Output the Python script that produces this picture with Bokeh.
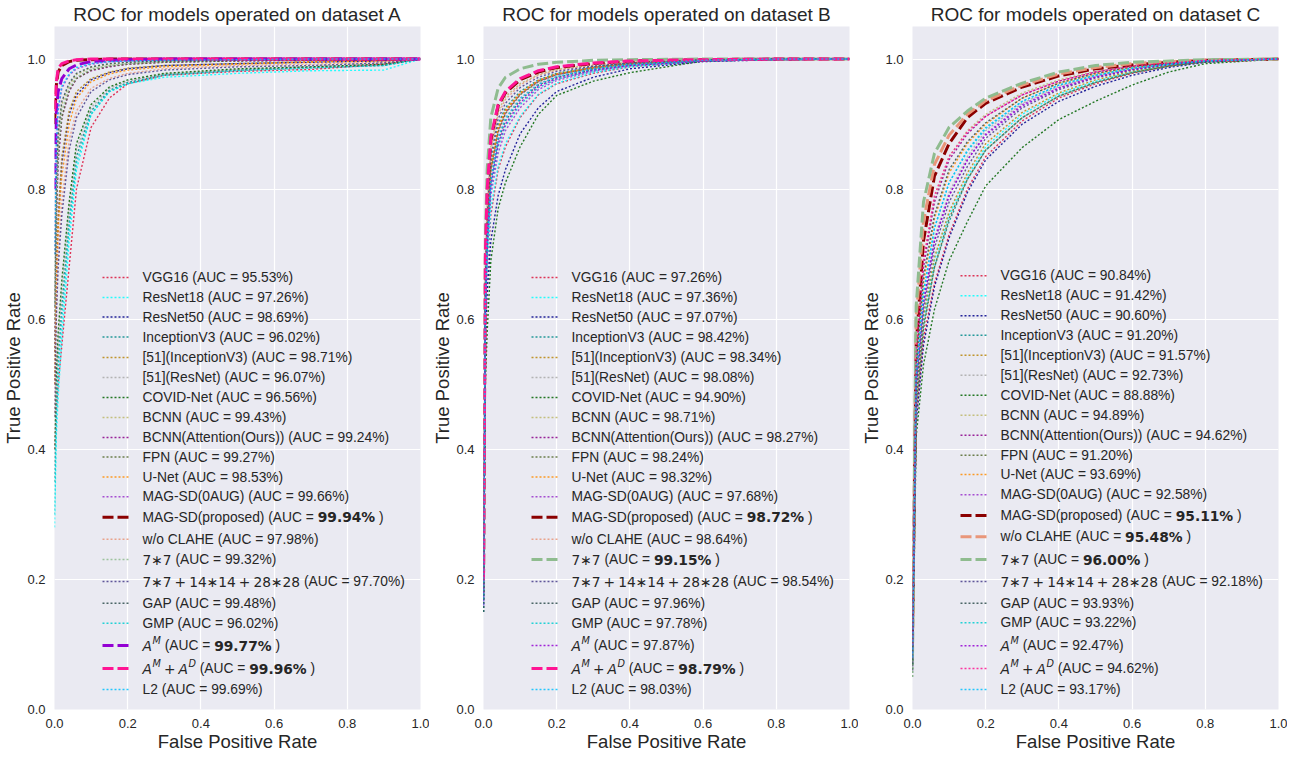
from bokeh.plotting import figure
from bokeh.models import Range1d, FixedTicker, PrintfTickFormatter, Label, Arrow
from bokeh.layouts import row
from bokeh.embed import file_html
from bokeh.resources import INLINE

# ---------------- data ----------------
models = ["VGG16", "ResNet18", "ResNet50", "InceptionV3", "[51](InceptionV3)", "[51](ResNet)",
          "COVID-Net", "BCNN", "BCNN(Attention(Ours))", "FPN", "U-Net", "MAG-SD(0AUG)",
          "MAG-SD(proposed)", "w/o CLAHE", "7*7", "7*7+14*14+28*28", "GAP", "GMP",
          "A^M", "A^M+A^D", "L2"]

titles = ["ROC for models operated on dataset A",
          "ROC for models operated on dataset B",
          "ROC for models operated on dataset C"]

auc_a = [95.53, 97.26, 98.69, 96.02, 98.71, 96.07, 96.56, 99.43, 99.24, 99.27, 98.53, 99.66,
         99.94, 97.98, 99.32, 97.70, 99.48, 96.02, 99.77, 99.96, 99.69]
auc_b = [97.26, 97.36, 97.07, 98.42, 98.34, 98.08, 94.90, 98.71, 98.27, 98.24, 98.32, 97.68,
         98.72, 98.64, 99.15, 98.54, 97.96, 97.78, 97.87, 98.79, 98.03]
auc_c = [90.84, 91.42, 90.60, 91.20, 91.57, 92.73, 88.88, 94.89, 94.62, 91.20, 93.69, 92.58,
         95.11, 95.48, 96.00, 92.18, 93.93, 93.22, 92.47, 94.62, 93.17]

fpr_a = [0, 0.005, 0.01, 0.02, 0.04, 0.06, 0.1, 0.15, 0.2, 0.3, 0.5, 0.7, 0.9, 1.0]
tpr_a = [
    [0.40, 0.46, 0.50, 0.56, 0.68, 0.80, 0.895, 0.94, 0.962, 0.975, 0.981, 0.984, 0.992, 1],
    [0.28, 0.42, 0.48, 0.57, 0.72, 0.83, 0.915, 0.95, 0.962, 0.972, 0.978, 0.982, 0.983, 1],
    [0.50, 0.66, 0.75, 0.84, 0.915, 0.945, 0.968, 0.979, 0.985, 0.99, 0.993, 0.995, 0.997, 1],
    [0.35, 0.47, 0.54, 0.62, 0.75, 0.85, 0.92, 0.952, 0.964, 0.976, 0.983, 0.987, 0.99, 1],
    [0.50, 0.67, 0.76, 0.85, 0.92, 0.95, 0.97, 0.98, 0.986, 0.99, 0.993, 0.996, 0.998, 1],
    [0.38, 0.50, 0.56, 0.64, 0.77, 0.86, 0.925, 0.955, 0.966, 0.977, 0.984, 0.988, 0.992, 1],
    [0.40, 0.52, 0.58, 0.66, 0.78, 0.87, 0.93, 0.957, 0.968, 0.978, 0.985, 0.988, 0.992, 1],
    [0.60, 0.80, 0.88, 0.93, 0.96, 0.976, 0.987, 0.992, 0.995, 0.997, 0.998, 0.999, 1, 1],
    [0.55, 0.75, 0.84, 0.91, 0.95, 0.97, 0.982, 0.988, 0.992, 0.995, 0.997, 0.998, 0.999, 1],
    [0.55, 0.76, 0.85, 0.91, 0.952, 0.97, 0.983, 0.989, 0.992, 0.995, 0.997, 0.998, 0.999, 1],
    [0.50, 0.65, 0.74, 0.82, 0.90, 0.94, 0.965, 0.977, 0.983, 0.988, 0.992, 0.995, 0.997, 1],
    [0.70, 0.86, 0.92, 0.955, 0.975, 0.985, 0.992, 0.996, 0.997, 0.998, 0.999, 1, 1, 1],
    [0.90, 0.96, 0.98, 0.99, 0.996, 0.998, 0.999, 1, 1, 1, 1, 1, 1, 1],
    [0.45, 0.62, 0.70, 0.78, 0.875, 0.92, 0.955, 0.97, 0.978, 0.985, 0.99, 0.992, 0.995, 1],
    [0.60, 0.78, 0.86, 0.92, 0.955, 0.972, 0.985, 0.99, 0.993, 0.996, 0.998, 0.999, 1, 1],
    [0.45, 0.60, 0.68, 0.76, 0.86, 0.91, 0.95, 0.968, 0.976, 0.983, 0.988, 0.99, 0.994, 1],
    [0.62, 0.81, 0.885, 0.935, 0.963, 0.978, 0.988, 0.993, 0.995, 0.997, 0.998, 0.999, 1, 1],
    [0.30, 0.45, 0.52, 0.60, 0.74, 0.84, 0.915, 0.95, 0.962, 0.975, 0.982, 0.986, 0.99, 1],
    [0.80, 0.92, 0.95, 0.97, 0.985, 0.991, 0.996, 0.998, 0.999, 1, 1, 1, 1, 1],
    [0.92, 0.965, 0.985, 0.993, 0.997, 0.999, 1, 1, 1, 1, 1, 1, 1, 1],
    [0.70, 0.87, 0.925, 0.958, 0.977, 0.987, 0.993, 0.996, 0.997, 0.998, 0.999, 1, 1, 1],
]

fpr_b = [0, 0.005, 0.01, 0.02, 0.04, 0.06, 0.1, 0.15, 0.2, 0.3, 0.4, 0.6, 0.8, 1.0]
tpr_b = [
    [0.15, 0.58, 0.67, 0.76, 0.83, 0.865, 0.91, 0.945, 0.962, 0.978, 0.988, 0.997, 0.999, 1],
    [0.15, 0.59, 0.68, 0.77, 0.835, 0.87, 0.912, 0.946, 0.963, 0.979, 0.988, 0.997, 0.999, 1],
    [0.15, 0.55, 0.64, 0.72, 0.79, 0.83, 0.885, 0.925, 0.95, 0.972, 0.985, 0.996, 0.999, 1],
    [0.18, 0.65, 0.75, 0.84, 0.90, 0.925, 0.95, 0.968, 0.978, 0.988, 0.994, 0.998, 1, 1],
    [0.18, 0.64, 0.745, 0.835, 0.895, 0.922, 0.948, 0.967, 0.977, 0.987, 0.993, 0.998, 1, 1],
    [0.17, 0.62, 0.72, 0.815, 0.88, 0.91, 0.94, 0.962, 0.973, 0.985, 0.992, 0.998, 1, 1],
    [0.15, 0.50, 0.58, 0.69, 0.77, 0.81, 0.865, 0.915, 0.944, 0.966, 0.979, 0.997, 0.999, 1],
    [0.20, 0.68, 0.78, 0.865, 0.92, 0.942, 0.962, 0.976, 0.984, 0.991, 0.995, 0.999, 1, 1],
    [0.18, 0.64, 0.74, 0.83, 0.89, 0.918, 0.946, 0.966, 0.976, 0.987, 0.993, 0.998, 1, 1],
    [0.17, 0.63, 0.735, 0.828, 0.888, 0.916, 0.945, 0.965, 0.976, 0.986, 0.993, 0.998, 1, 1],
    [0.18, 0.64, 0.742, 0.833, 0.893, 0.92, 0.947, 0.967, 0.977, 0.987, 0.993, 0.998, 1, 1],
    [0.16, 0.60, 0.70, 0.79, 0.855, 0.89, 0.925, 0.953, 0.967, 0.981, 0.99, 0.997, 0.999, 1],
    [0.20, 0.69, 0.79, 0.875, 0.928, 0.948, 0.968, 0.98, 0.987, 0.993, 0.997, 0.999, 1, 1],
    [0.19, 0.67, 0.77, 0.86, 0.915, 0.938, 0.96, 0.975, 0.983, 0.99, 0.995, 0.999, 1, 1],
    [0.20, 0.72, 0.83, 0.91, 0.955, 0.972, 0.985, 0.992, 0.995, 0.998, 0.999, 1, 1, 1],
    [0.18, 0.66, 0.76, 0.85, 0.908, 0.932, 0.956, 0.972, 0.981, 0.989, 0.994, 0.999, 1, 1],
    [0.17, 0.62, 0.72, 0.81, 0.875, 0.905, 0.937, 0.96, 0.972, 0.984, 0.991, 0.998, 1, 1],
    [0.16, 0.61, 0.71, 0.80, 0.865, 0.897, 0.93, 0.956, 0.969, 0.982, 0.99, 0.997, 0.999, 1],
    [0.16, 0.615, 0.715, 0.805, 0.87, 0.90, 0.933, 0.958, 0.97, 0.983, 0.99, 0.997, 0.999, 1],
    [0.20, 0.70, 0.80, 0.88, 0.93, 0.95, 0.97, 0.982, 0.988, 0.994, 0.997, 0.999, 1, 1],
    [0.17, 0.62, 0.72, 0.812, 0.878, 0.908, 0.939, 0.961, 0.973, 0.985, 0.992, 0.998, 1, 1],
]

fpr_c = [0, 0.01, 0.03, 0.06, 0.1, 0.15, 0.2, 0.3, 0.4, 0.5, 0.6, 0.7, 0.8, 1.0]
tpr_c = [
    [0.08, 0.45, 0.57, 0.655, 0.73, 0.80, 0.85, 0.905, 0.94, 0.962, 0.978, 0.989, 0.996, 1],
    [0.07, 0.48, 0.60, 0.69, 0.76, 0.82, 0.865, 0.915, 0.946, 0.966, 0.98, 0.99, 0.996, 1],
    [0.06, 0.44, 0.56, 0.65, 0.725, 0.795, 0.845, 0.90, 0.935, 0.958, 0.975, 0.987, 0.995, 1],
    [0.07, 0.47, 0.59, 0.68, 0.75, 0.815, 0.86, 0.91, 0.943, 0.964, 0.979, 0.989, 0.996, 1],
    [0.07, 0.48, 0.605, 0.695, 0.765, 0.825, 0.87, 0.918, 0.948, 0.968, 0.981, 0.99, 0.996, 1],
    [0.08, 0.50, 0.63, 0.725, 0.795, 0.85, 0.89, 0.932, 0.958, 0.974, 0.985, 0.992, 0.997, 1],
    [0.05, 0.42, 0.53, 0.615, 0.69, 0.75, 0.805, 0.864, 0.907, 0.935, 0.96, 0.98, 0.993, 1],
    [0.10, 0.55, 0.69, 0.785, 0.85, 0.89, 0.915, 0.948, 0.968, 0.981, 0.99, 0.995, 0.998, 1],
    [0.10, 0.54, 0.68, 0.78, 0.845, 0.885, 0.912, 0.945, 0.966, 0.98, 0.989, 0.994, 0.998, 1],
    [0.06, 0.46, 0.585, 0.68, 0.755, 0.815, 0.86, 0.91, 0.943, 0.964, 0.979, 0.989, 0.996, 1],
    [0.09, 0.52, 0.655, 0.755, 0.825, 0.87, 0.90, 0.94, 0.963, 0.977, 0.987, 0.993, 0.997, 1],
    [0.08, 0.50, 0.625, 0.72, 0.79, 0.845, 0.885, 0.93, 0.956, 0.973, 0.984, 0.992, 0.997, 1],
    [0.12, 0.56, 0.72, 0.82, 0.87, 0.91, 0.932, 0.957, 0.974, 0.985, 0.991, 0.995, 0.998, 1],
    [0.10, 0.60, 0.75, 0.838, 0.883, 0.915, 0.936, 0.96, 0.977, 0.987, 0.993, 0.996, 0.998, 1],
    [0.08, 0.62, 0.78, 0.855, 0.895, 0.92, 0.94, 0.963, 0.98, 0.99, 0.995, 0.997, 0.999, 1],
    [0.07, 0.49, 0.615, 0.71, 0.78, 0.835, 0.878, 0.925, 0.953, 0.971, 0.983, 0.991, 0.996, 1],
    [0.09, 0.53, 0.665, 0.76, 0.83, 0.873, 0.902, 0.94, 0.963, 0.978, 0.988, 0.993, 0.997, 1],
    [0.08, 0.51, 0.64, 0.74, 0.81, 0.86, 0.895, 0.935, 0.96, 0.975, 0.986, 0.992, 0.997, 1],
    [0.08, 0.50, 0.625, 0.72, 0.79, 0.845, 0.883, 0.928, 0.955, 0.972, 0.984, 0.992, 0.997, 1],
    [0.10, 0.55, 0.69, 0.79, 0.85, 0.888, 0.912, 0.945, 0.966, 0.98, 0.989, 0.994, 0.998, 1],
    [0.08, 0.51, 0.64, 0.74, 0.81, 0.858, 0.893, 0.935, 0.96, 0.975, 0.986, 0.992, 0.997, 1],
]

tick_values = [0.0, 0.2, 0.4, 0.6, 0.8, 1.0]

# ---------------- styles / layout ----------------
colors = ["crimson", "cyan", "darkblue", "darkcyan", "darkgoldenrod", "darkgray", "darkgreen",
          "darkkhaki", "darkmagenta", "darkolivegreen", "darkorange", "darkorchid", "darkred",
          "darksalmon", "darkseagreen", "darkslateblue", "darkslategray", "darkturquoise",
          "darkviolet", "deeppink", "deepskyblue"]
bold_a = {12, 18, 19}
bold_b = {12, 14, 19}
bold_c = {12, 13, 14}

rows_ab = [284, 304, 323.5, 343.5, 364, 384, 404, 424, 444, 463.5, 483.5, 503.3, 523.7,
           545.7, 566, 588, 609.7, 629.7, 652, 675, 696]
rows_c = [282.3, 302.3, 322.3, 341.7, 361.7, 381.7, 401.7, 421.7, 441.7, 461.7, 481, 501.3,
          522, 543.3, 566, 588, 609.7, 629.3, 652.3, 675, 696]
REF_BOTTOM = 716

FONT = "Liberation Sans"
MATHF = "DejaVu Sans"
TEXT = "#262626"
FS = 13.8
DOT = "2 2"
DASH = "11 4"

ARIAL = {' ': 278, '(': 333, ')': 333, '=': 584, '%': 889, '.': 278, '-': 333, '/': 278,
         '[': 278, ']': 278, 'A': 667, 'B': 667, 'C': 722, 'D': 722, 'E': 667, 'F': 611,
         'G': 778, 'H': 722, 'I': 278, 'L': 556, 'M': 833, 'N': 722, 'O': 778, 'P': 667,
         'R': 722, 'S': 667, 'U': 722, 'V': 667, 'a': 556, 'c': 500, 'd': 556, 'e': 556,
         'i': 222, 'n': 556, 'o': 556, 'p': 556, 'r': 333, 's': 500, 't': 278, 'u': 556,
         'w': 722}
DJ = {'\u2217': 838, '+': 838}
DJB = {'.': 380, '%': 1002, ' ': 348}
DJO = {'A': 684, 'M': 863, 'D': 770}

KIND = {  # font, style, size, dy, table, default
    "n": (FONT, "normal", FS, 0, ARIAL, 556),
    "b": (MATHF, "bold", FS, 0, DJB, 696),
    "m": (MATHF, "normal", FS, 0, DJ, 636),
    "i": (MATHF, "italic", FS, 0, DJO, 700),
    "s": (MATHF, "italic", FS * 0.7, 5, DJO, 700),
}

RICH = {
    "7*7": [("7\u22177", "m")],
    "7*7+14*14+28*28": [("7\u22177", "m"), 3.0, ("+", "m"), 3.0, ("14\u221714", "m"), 3.0,
                        ("+", "m"), 3.0, ("28\u221728", "m")],
    "A^M": [("A", "i"), 0.6, ("M", "s")],
    "A^M+A^D": [("A", "i"), 0.6, ("M", "s"), 3.0, ("+", "m"), 3.0, ("A", "i"), 0.6, ("D", "s")],
}


def text_width(text, kind):
    font, style, size, dy, table, default = KIND[kind]
    return sum(table.get(ch, default) for ch in text) / 1000.0 * size


def add_legend(p, aucs, bold, rows):
    for i, name in enumerate(models):
        y = REF_BOTTOM - rows[i]
        hl = i in bold
        p.add_layout(Arrow(end=None, start=None, x_start=48, x_end=76, y_start=y, y_end=y,
                           start_units="screen", end_units="screen",
                           line_color=colors[i], line_width=3 if hl else 1.4,
                           line_dash=DASH if hl else DOT, line_alpha=1.0 if hl else 0.85))
        segs = list(RICH.get(name, [(name, "n")]))
        val = f"{aucs[i]:.2f}%"
        if hl:
            segs += [(" (AUC = ", "n"), (val, "b"), (" )", "n")]
        else:
            segs += [(" (AUC = " + val + ")", "n")]
        merged = []
        for s in segs:
            if merged and not isinstance(s, (int, float)) and not isinstance(merged[-1], (int, float)) \
                    and s[1] == "n" and merged[-1][1] == "n":
                merged[-1] = (merged[-1][0] + s[0], "n")
            else:
                merged.append(s)
        x = 88.0
        for s in merged:
            if isinstance(s, (int, float)):
                x += s
                continue
            txt, kind = s
            lead = len(txt) - len(txt.lstrip(" "))
            x += text_width(" " * lead, kind)
            body = txt.strip(" ")
            font, style, size, dy, _, _ = KIND[kind]
            p.add_layout(Label(x=x, y=y + dy, x_units="screen", y_units="screen", text=body,
                               text_font=font, text_font_style=style,
                               text_font_size=f"{size:.1f}px", text_color=TEXT,
                               text_baseline="middle", text_align="left"))
            x += text_width(txt.lstrip(" "), kind)


def make_panel(title, fpr, tprs, aucs, bold, rows):
    p = figure(frame_width=366, frame_height=683, x_range=Range1d(0, 1), y_range=Range1d(0, 1.05),
               output_backend="svg", toolbar_location=None, title=title,
               min_border=0, min_border_right=9, background_fill_color="#EAEAF2",
               border_fill_color="white", outline_line_color=None)
    p.title.text_font = FONT
    p.title.text_font_size = "19px"
    p.title.text_font_style = "normal"
    p.title.text_color = TEXT
    p.title.align = "center"
    p.title.standoff = 3
    for ax in (p.xaxis[0], p.yaxis[0]):
        ax.ticker = FixedTicker(ticks=tick_values)
        ax.formatter = PrintfTickFormatter(format="%.1f")
        ax.axis_line_color = None
        ax.major_tick_line_color = None
        ax.minor_tick_line_color = None
        ax.major_label_text_font = FONT
        ax.major_label_text_font_size = "13px"
        ax.major_label_text_color = TEXT
        ax.major_label_standoff = 3
        ax.axis_label_text_font = FONT
        ax.axis_label_text_font_size = "18.5px"
        ax.axis_label_text_font_style = "normal"
        ax.axis_label_text_color = TEXT
        ax.axis_label_standoff = 0
    p.xaxis.axis_label = "False Positive Rate"
    p.yaxis.axis_label = "True Positive Rate"
    p.grid.grid_line_color = "white"
    p.grid.grid_line_width = 1.2
    for i in range(len(models)):
        hl = i in bold
        p.line(fpr, tprs[i], line_color=colors[i], line_width=3 if hl else 1.4,
               line_dash=DASH if hl else DOT, line_alpha=1.0 if hl else 0.85)
    add_legend(p, aucs, bold, rows)
    return p


pa = make_panel(titles[0], fpr_a, tpr_a, auc_a, bold_a, rows_ab)
pb = make_panel(titles[1], fpr_b, tpr_b, auc_b, bold_b, rows_ab)
pc = make_panel(titles[2], fpr_c, tpr_c, auc_c, bold_c, rows_c)

layout = row(pa, pb, pc)
open("out.html", "w").write(file_html(layout, INLINE))
